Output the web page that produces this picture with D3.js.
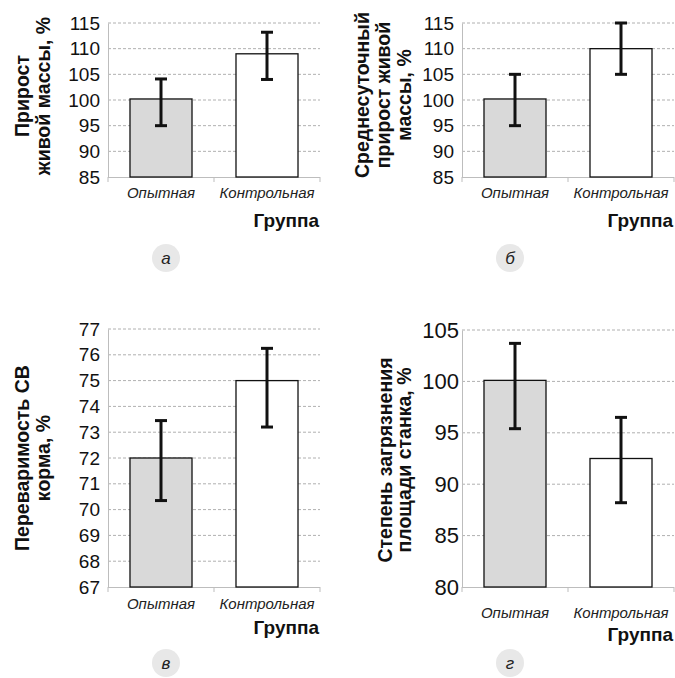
<!DOCTYPE html>
<html>
<head>
<meta charset="utf-8">
<script src="https://cdn.jsdelivr.net/npm/d3@7"></script>
<style>
  body { margin: 0; background: #fff; }
  svg { display: block; }
</style>
</head>
<body>
<div id="chart"></div>
<script>
// группы (общие для всех панелей)
var groups = ["Опытная", "Контрольная"];

// а — прирост живой массы
var gainTicks = [85, 90, 95, 100, 105, 110, 115];
var gainMean = [100.2, 109];
var gainLow = [95, 104];
var gainHigh = [104.1, 113.2];

// б — среднесуточный прирост
var dailyTicks = [85, 90, 95, 100, 105, 110, 115];
var dailyMean = [100.2, 110];
var dailyLow = [95, 105];
var dailyHigh = [105, 115];

// в — переваримость СВ корма
var digestTicks = [67, 68, 69, 70, 71, 72, 73, 74, 75, 76, 77];
var digestMean = [72, 75];
var digestLow = [70.35, 73.2];
var digestHigh = [73.45, 76.25];

// г — степень загрязнения площади станка
var dirtTicks = [80, 85, 90, 95, 100, 105];
var dirtMean = [100.1, 92.5];
var dirtLow = [95.4, 88.2];
var dirtHigh = [103.7, 96.5];

var fills = ["#d9d9d9", "#ffffff"];

var svg = d3.select('#chart')
    .append('svg')
    .attr('width', 675)
    .attr('height', 678);

var panels = [
  {ticks: gainTicks, mean: gainMean, low: gainLow, high: gainHigh,
   x0: 108, x1: 320, y0: 23, y1: 177, tickFont: 19,
   title: ["Прирост", "живой массы, %"], titleX: 22, titleStep: 21, titleCy: 96,
   catY: 198, grpY: 227, letter: "а", lx: 166, ly: 258},
  {ticks: dailyTicks, mean: dailyMean, low: dailyLow, high: dailyHigh,
   x0: 462, x1: 674, y0: 23, y1: 177, tickFont: 19,
   title: ["Среднесуточный", "прирост живой", "массы, %"], titleX: 362, titleStep: 21, titleCy: 95,
   catY: 198, grpY: 227, letter: "б", lx: 510, ly: 258},
  {ticks: digestTicks, mean: digestMean, low: digestLow, high: digestHigh,
   x0: 108, x1: 320, y0: 329, y1: 587, tickFont: 19,
   title: ["Переваримость СВ", "корма, %"], titleX: 22, titleStep: 21, titleCy: 458,
   catY: 609, grpY: 634, letter: "в", lx: 166, ly: 663},
  {ticks: dirtTicks, mean: dirtMean, low: dirtLow, high: dirtHigh,
   x0: 462, x1: 674, y0: 330, y1: 587, tickFont: 22,
   title: ["Степень загрязнения", "площади станка, %"], titleX: 385, titleStep: 19, titleCy: 460,
   catY: 618, grpY: 641, letter: "г", lx: 510, ly: 663}
];

panels.forEach(function (p) {
  var g = svg.append('g');

  var y = d3.scaleLinear()
      .domain([p.ticks[0], p.ticks[p.ticks.length - 1]])
      .range([p.y1, p.y0]);

  var x = d3.scaleBand()
      .domain(groups)
      .range([p.x0, p.x1])
      .paddingInner(0.415)
      .paddingOuter(0.2075);

  // сетка
  g.selectAll('line.grid')
      .data(p.ticks.slice(1))
      .enter().append('line')
      .attr('x1', p.x0)
      .attr('x2', p.x1)
      .attr('y1', function (d) { return y(d); })
      .attr('y2', function (d) { return y(d); })
      .attr('stroke', '#b0b0b0')
      .attr('stroke-width', 1)
      .attr('stroke-dasharray', '3,2');

  // ось Y
  var yAxis = g.append('g')
      .attr('transform', 'translate(' + p.x0 + ',0)')
      .call(d3.axisLeft(y).tickValues(p.ticks).tickSize(0).tickPadding(p.tickFont > 20 ? 3 : 8));
  yAxis.select('.domain').attr('stroke', '#bdbdbd');
  yAxis.selectAll('text')
      .attr('font-family', 'Liberation Sans, Arial, sans-serif')
      .attr('font-size', p.tickFont)
      .attr('fill', '#111');

  // ось X
  g.append('line')
      .attr('x1', p.x0).attr('x2', p.x1)
      .attr('y1', p.y1 + 0.5).attr('y2', p.y1 + 0.5)
      .attr('stroke', '#bdbdbd');
  var cut = [p.x0, (p.x0 + p.x1) / 2, p.x1];
  g.selectAll('line.cut')
      .data(cut)
      .enter().append('line')
      .attr('x1', function (d) { return d; })
      .attr('x2', function (d) { return d; })
      .attr('y1', p.y1)
      .attr('y2', p.y1 + 5)
      .attr('stroke', '#bdbdbd');

  // столбцы
  g.selectAll('rect')
      .data(p.mean)
      .enter().append('rect')
      .attr('x', function (d, i) { return x(groups[i]); })
      .attr('y', function (d) { return y(d); })
      .attr('width', x.bandwidth())
      .attr('height', function (d) { return p.y1 - y(d); })
      .attr('fill', function (d, i) { return fills[i]; })
      .attr('stroke', '#111')
      .attr('stroke-width', 1.3);

  // планки погрешностей
  var eb = g.selectAll('g.err')
      .data(p.mean)
      .enter().append('g');
  eb.append('line')
      .attr('x1', function (d, i) { return x(groups[i]) + x.bandwidth() / 2; })
      .attr('x2', function (d, i) { return x(groups[i]) + x.bandwidth() / 2; })
      .attr('y1', function (d, i) { return y(p.low[i]); })
      .attr('y2', function (d, i) { return y(p.high[i]); })
      .attr('stroke', '#111')
      .attr('stroke-width', 3);
  ['low', 'high'].forEach(function (k) {
    eb.append('line')
        .attr('x1', function (d, i) { return x(groups[i]) + x.bandwidth() / 2 - 6; })
        .attr('x2', function (d, i) { return x(groups[i]) + x.bandwidth() / 2 + 6; })
        .attr('y1', function (d, i) { return y(p[k][i]); })
        .attr('y2', function (d, i) { return y(p[k][i]); })
        .attr('stroke', '#111')
        .attr('stroke-width', 3);
  });

  // подписи групп
  g.selectAll('text.cat')
      .data(groups)
      .enter().append('text')
      .attr('x', function (d) { return x(d) + x.bandwidth() / 2; })
      .attr('y', p.catY)
      .attr('text-anchor', 'middle')
      .attr('font-family', 'Liberation Sans, Arial, sans-serif')
      .attr('font-style', 'italic')
      .attr('font-size', 15)
      .attr('fill', '#222')
      .text(function (d) { return d; });

  g.append('text')
      .attr('x', p.x1 - 1)
      .attr('y', p.grpY)
      .attr('text-anchor', 'end')
      .attr('font-family', 'Liberation Sans, Arial, sans-serif')
      .attr('font-weight', 'bold')
      .attr('font-size', 19)
      .attr('fill', '#111')
      .text('Группа');

  // заголовок оси Y
  p.title.forEach(function (t, i) {
    var tx = p.titleX + i * p.titleStep;
    g.append('text')
        .attr('transform', 'translate(' + tx + ',' + p.titleCy + ') rotate(-90)')
        .attr('text-anchor', 'middle')
        .attr('dy', '0.35em')
        .attr('font-family', 'Liberation Sans, Arial, sans-serif')
        .attr('font-weight', 'bold')
        .attr('font-size', 19.5)
        .attr('fill', '#111')
        .text(t);
  });

  // буква панели
  g.append('circle')
      .attr('cx', p.lx).attr('cy', p.ly).attr('r', 14)
      .attr('fill', '#e8e8e8');
  g.append('text')
      .attr('x', p.lx).attr('y', p.ly)
      .attr('dy', '0.35em')
      .attr('text-anchor', 'middle')
      .attr('font-family', 'Liberation Sans, Arial, sans-serif')
      .attr('font-style', 'italic')
      .attr('font-size', 17)
      .attr('fill', '#222')
      .text(p.letter);
});
</script>
</body>
</html>
